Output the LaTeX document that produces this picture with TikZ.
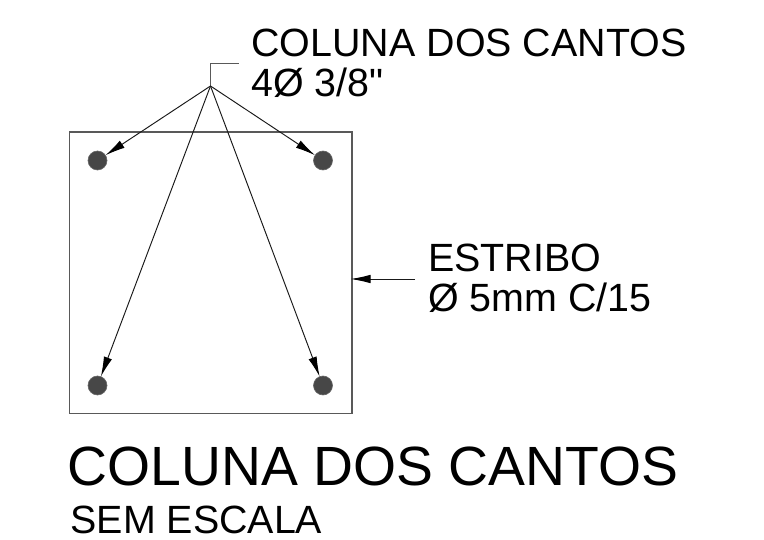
\documentclass[tikz,border=0pt]{standalone}
\usepackage{fontspec}
\newfontfamily\labelfont{Liberation Sans}
\usetikzlibrary{arrows.meta}
\tikzset{
  lbl/.style={anchor=base west,inner sep=0pt,outer sep=0pt,text=black},
  smalltext/.style={lbl,font=\labelfont\fontsize{39.4}{40}\selectfont},
  bigtext/.style={lbl,font=\labelfont\fontsize{55.3}{56}\selectfont},
  rebar/.style={circle,minimum size=19pt,inner sep=0pt,outer sep=0pt,fill=black!72,draw=black!60,line width=0.6pt},
  outline/.style={draw=black!65,line width=1.1pt},
  leader/.style={draw=black!90,line width=0.95pt},
  pointer/.style={leader,-{Latex[length=20pt,width=8.5pt,color=black]}}
}
\begin{document}
\begin{tikzpicture}[x=1pt,y=-1pt]
\useasboundingbox (0,0) rectangle (764,540);
\fill[white] (0,0) rectangle (764,540);
\node[outline,draw,minimum width=282.5pt,minimum height=281.5pt,inner sep=0pt,outer sep=0pt] (box) at (210.75,272.75) {};
\node[rebar] (tl) at (97.5,160.5) {};
\node[rebar] (tr) at (323,160.5) {};
\node[rebar] (bl) at (97.5,385.5) {};
\node[rebar] (br) at (323,385.5) {};
\coordinate (hub) at (210.5,86);
\coordinate (elbow) at (210.5,63);
\coordinate (tail) at (238.5,63);
\coordinate (stirrupTail) at (415,279);
\coordinate (stirrupTip) at (352,279);
\draw[outline,line width=0.9pt] (hub) -- (elbow) -- (tail);
\draw[pointer] (hub) -- (tl);
\draw[pointer] (hub) -- (tr);
\draw[pointer] (hub) -- (bl);
\draw[pointer] (hub) -- (br);
\draw[pointer,shorten >=-1.5pt] (stirrupTail) -- (stirrupTip);
\node[smalltext] (t1) at (251.5,57) {COLUNA DOS CANTOS};
\node[smalltext] (t2) at (251.5,97) {4Ø 3/8"};
\node[smalltext] (t3) at (428,272) {ESTRIBO};
\node[smalltext] (t4) at (428,312) {Ø 5mm C/15};
\node[bigtext] (t5) at (67.5,485) {COLUNA DOS CANTOS};
\node[smalltext] (t6) at (70.5,533.5) {SEM ESCALA};
\end{tikzpicture}
\end{document}
